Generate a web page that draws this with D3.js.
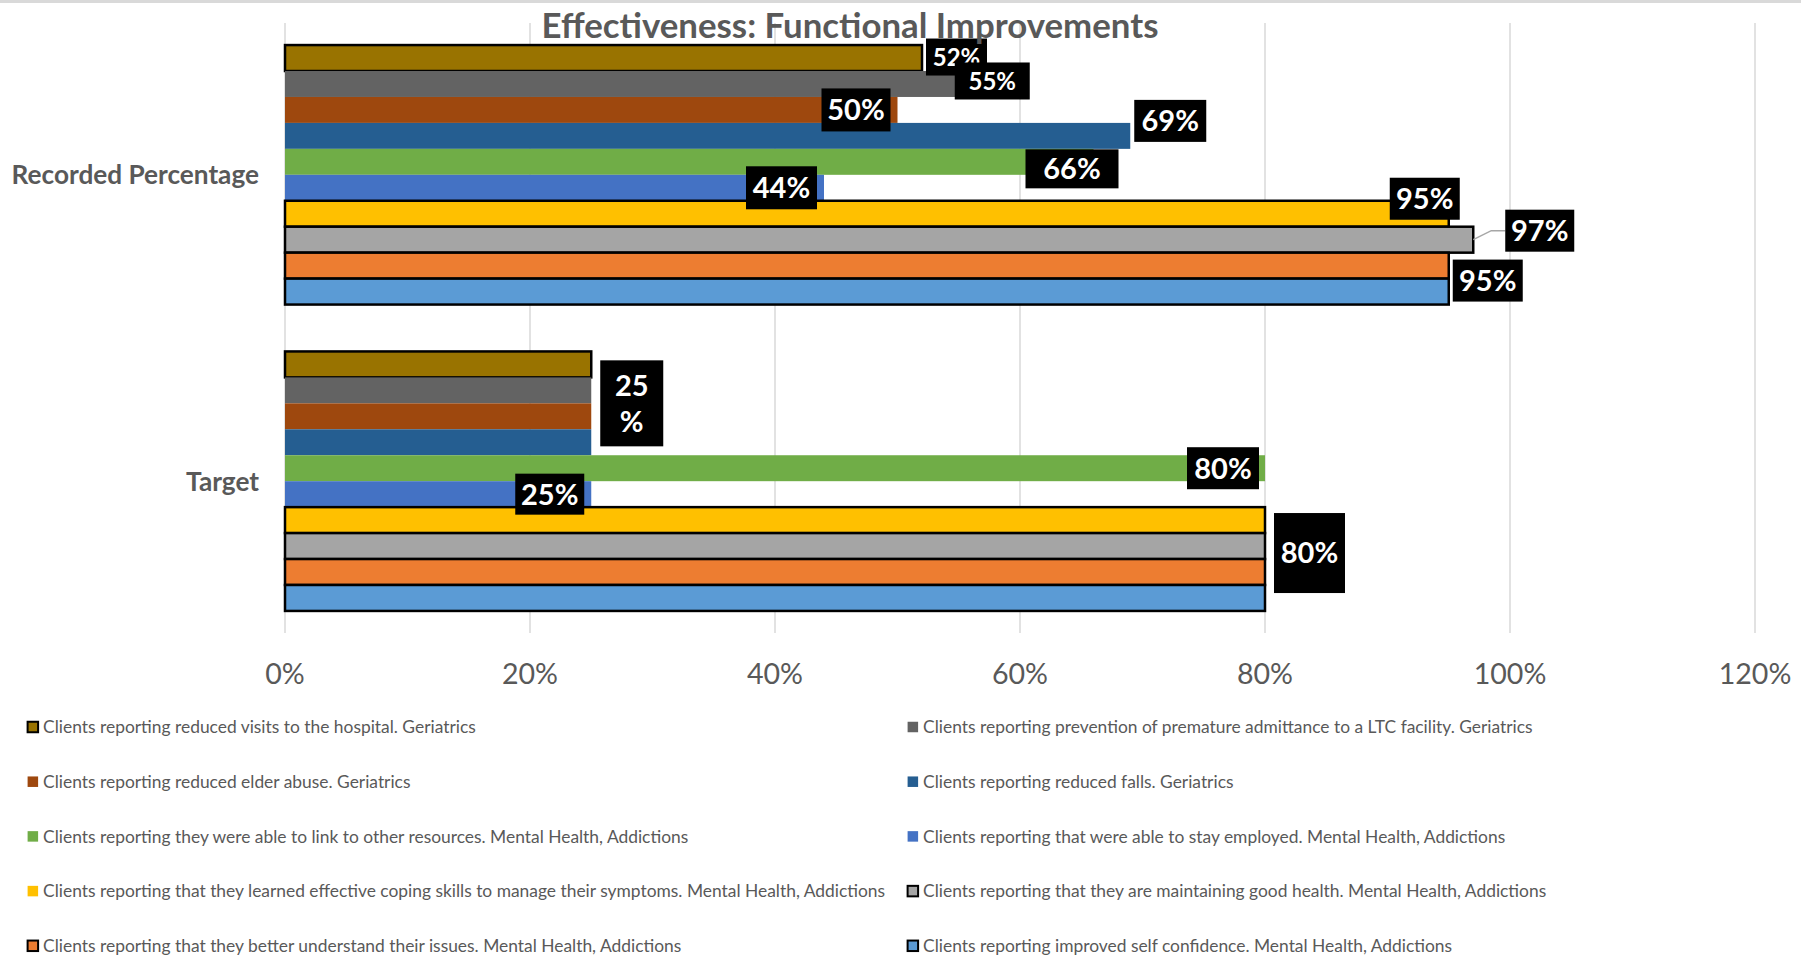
<!DOCTYPE html>
<html>
<head>
<meta charset="utf-8">
<script src="https://cdn.jsdelivr.net/npm/d3@7"></script>
<style>
  body { margin: 0; background: #fff; }
  text { font-family: Lato, "Open Sans", sans-serif; }
</style>
</head>
<body>
<div id="chart"></div>
<script>

		// categories (top to bottom)
		var categories = ["Recorded Percentage", "Target"];

		// series, in legend order (top bar of each group first)
		var seriesNames = [
			"Clients reporting reduced visits to the hospital. Geriatrics",
			"Clients reporting prevention of premature admittance to a LTC facility. Geriatrics",
			"Clients reporting reduced elder abuse. Geriatrics",
			"Clients reporting reduced falls. Geriatrics",
			"Clients reporting they were able to link to other resources. Mental Health, Addictions",
			"Clients reporting that were able to stay employed. Mental Health, Addictions",
			"Clients reporting that they learned effective coping skills to manage their symptoms. Mental Health, Addictions",
			"Clients reporting that they are maintaining good health. Mental Health, Addictions",
			"Clients reporting that they better understand their issues. Mental Health, Addictions",
			"Clients reporting improved self confidence. Mental Health, Addictions"
		];

		var seriesColors = ["#997300", "#636363", "#9e480e", "#255e91", "#70ad47",
		                    "#4472c4", "#ffc000", "#a5a5a5", "#ed7d31", "#5b9bd5"];

		var recorded = [0.52, 0.55, 0.50, 0.69, 0.66, 0.44, 0.95, 0.97, 0.95, 0.95];
		var target   = [0.25, 0.25, 0.25, 0.25, 0.80, 0.25, 0.80, 0.80, 0.80, 0.80];

		var barOutlined    = [true, false, false, false, false, false, true, true, true, true];
		var legendOutlined = [true, false, false, false, false, false, false, true, true, true];

		var xTicks = [0, 0.2, 0.4, 0.6, 0.8, 1.0, 1.2];

		var values = [recorded, target];

		//the size of the graph
		var width = 1801,
			height = 969;

		var formatPct = d3.format('.0%');

		var svg = d3.select('#chart')
			.append('svg')
			  .attr('width', width)
			  .attr('height', height);

		// thin grey frame line at the top
		svg.append('rect')
			.attr('x', 0).attr('y', 0)
			.attr('width', width).attr('height', 3)
			.style('fill', '#d9d9d9');

		var x = d3.scaleLinear()
					.domain([0, 1.2])
					.range([285, 1755]);

		var y = d3.scaleBand()
					.domain(categories)
					.range([23, 633])
					.paddingInner(0.153)
					.paddingOuter(0.072);

		var ySub = d3.scaleBand()
					.domain(d3.range(seriesNames.length))
					.range([0, y.bandwidth()]);

		//gridlines
		svg.selectAll('.grid')
			.data(xTicks)
			.enter()
			.append('line')
			.attr('class', 'grid')
			.attr('x1', function(d) { return x(d); })
			.attr('x2', function(d) { return x(d); })
			.attr('y1', 23)
			.attr('y2', 633)
			.style('stroke', '#d9d9d9')
			.style('stroke-width', 1.5);

		//x tick labels
		svg.selectAll('.tick-label')
			.data(xTicks)
			.enter()
			.append('text')
			.attr('class', 'tick-label')
			.attr('x', function(d) { return x(d); })
			.attr('y', 684)
			.attr('text-anchor', 'middle')
			.style('font-size', '28.6px')
			.style('fill', '#595959')
			.text(formatPct);

		//category labels
		svg.selectAll('.cat-label')
			.data(categories)
			.enter()
			.append('text')
			.attr('class', 'cat-label')
			.attr('x', 259)
			.attr('y', function(d) { return y(d) + y.bandwidth() / 2; })
			.attr('dy', '0.36em')
			.attr('text-anchor', 'end')
			.style('font-size', '26.2px')
			.style('font-weight', 'bold')
			.style('fill', '#595959')
			.text(function(d) { return d; });

		//bars
		var bars = [];
		categories.forEach(function(c, ci) {
			seriesNames.forEach(function(s, si) {
				bars.push({cat: c, ci: ci, si: si, value: values[ci][si]});
			});
		});

		svg.selectAll('.bar')
			.data(bars)
			.enter()
			.append('rect')
			.attr('class', 'bar')
			.attr('x', x(0))
			.attr('y', function(d) { return y(d.cat) + ySub(d.si); })
			.attr('width', function(d) { return x(d.value) - x(0); })
			.attr('height', ySub.bandwidth())
			.style('fill', function(d) { return seriesColors[d.si]; })
			.style('stroke', function(d) { return barOutlined[d.si] ? '#000' : 'none'; })
			.style('stroke-width', 2.5);

		// data labels (Excel labels were dragged by hand, so each has its own offset)
		// side "out": box left = bar end + dx ; side "in": box right = bar end - dx
		var labels = [
			{ci: 0, s: [0], side: 'out', dx: 4,   dy: -1,  w: 61, h: 37, size: 24},
			{ci: 0, s: [1], side: 'out', dx: -4,  dy: -3,  w: 75, h: 37, size: 24},
			{ci: 0, s: [2], side: 'in',  dx: 7,   dy: 0,   w: 69, h: 43, size: 29},
			{ci: 0, s: [3], side: 'out', dx: 4,   dy: -15, w: 72, h: 42, size: 29},
			{ci: 0, s: [4], side: 'out', dx: -68, dy: 7,   w: 93, h: 39, size: 29},
			{ci: 0, s: [5], side: 'in',  dx: 7,   dy: 0,   w: 71, h: 43, size: 29},
			{ci: 0, s: [6], side: 'out', dx: -59, dy: -15, w: 70, h: 42, size: 29},
			{ci: 0, s: [7], side: 'out', dx: 32,  dy: -9,  w: 69, h: 42, size: 29, leader: true},
			{ci: 0, s: [9], side: 'out', dx: 4,   dy: -11, w: 70, h: 42, size: 29},
			{ci: 1, s: [0, 1, 2, 3], side: 'out', dx: 9, dy: 0, w: 63, h: 86, size: 29, wrap: true},
			{ci: 1, s: [4], side: 'in',  dx: 6,   dy: 0,   w: 72, h: 42, size: 29},
			{ci: 1, s: [5], side: 'in',  dx: 7,   dy: 0,   w: 69, h: 41, size: 29},
			{ci: 1, s: [6, 7, 8, 9], side: 'out', dx: 9, dy: -6, w: 71, h: 80, size: 29}
		];

		labels.forEach(function(l) {
			var cat = categories[l.ci];
			var v = values[l.ci][l.s[0]];
			var end = x(v);
			var top = y(cat) + ySub(l.s[0]);
			var bottom = y(cat) + ySub(l.s[l.s.length - 1]) + ySub.bandwidth();
			var barCy = (top + bottom) / 2;
			var cy = barCy + l.dy;
			var left = l.side === 'out' ? end + l.dx : end - l.dx - l.w;
			var g = svg.append('g').attr('class', 'data-label');

			if (l.leader) {
				g.append('path')
					.attr('d', 'M' + end + ',' + barCy + 'L' + (left - 14) + ',' + cy + 'L' + left + ',' + cy)
					.style('fill', 'none')
					.style('stroke', '#a6a6a6')
					.style('stroke-width', 1.5);
			}

			g.append('rect')
				.attr('x', left)
				.attr('y', cy - l.h / 2)
				.attr('width', l.w)
				.attr('height', l.h)
				.style('fill', '#000');

			var lines = l.wrap ? [formatPct(v).slice(0, -1), '%'] : [formatPct(v)];
			g.selectAll('text')
				.data(lines)
				.enter()
				.append('text')
				.attr('x', left + l.w / 2)
				.attr('y', function(d, i) { return cy + (i - (lines.length - 1) / 2) * 36; })
				.attr('dy', '0.36em')
				.attr('text-anchor', 'middle')
				.style('font-size', l.size + 'px')
				.style('font-weight', 'bold')
				.style('fill', '#fff')
				.text(function(d) { return d; });
		});

		//title
		svg.append('text')
			.attr('x', 850)
			.attr('y', 38)
			.attr('text-anchor', 'middle')
			.style('font-size', '34.8px')
			.style('font-weight', 'bold')
			.style('fill', '#595959')
			.text('Effectiveness: Functional Improvements');

		//legend, two columns, row by row
		var legendCols = [27.6, 907.6];
		var legend = svg.append('g').attr('class', 'legend');

		var items = legend.selectAll('.legend-item')
			.data(seriesNames)
			.enter()
			.append('g')
			.attr('class', 'legend-item')
			.attr('transform', function(d, i) {
				return 'translate(' + legendCols[i % 2] + ',' + (727 + Math.floor(i / 2) * 54.7) + ')';
			});

		items.append('rect')
			.attr('x', 0)
			.attr('y', -5.25)
			.attr('width', 10.5)
			.attr('height', 10.5)
			.style('fill', function(d, i) { return seriesColors[i]; })
			.style('stroke', function(d, i) { return legendOutlined[i] ? '#000' : 'none'; })
			.style('stroke-width', 2);

		items.append('text')
			.attr('x', 15.5)
			.attr('dy', '0.36em')
			.style('font-size', '17.4px')
			.style('fill', '#595959')
			.text(function(d) { return d; });

</script>
</body>
</html>
